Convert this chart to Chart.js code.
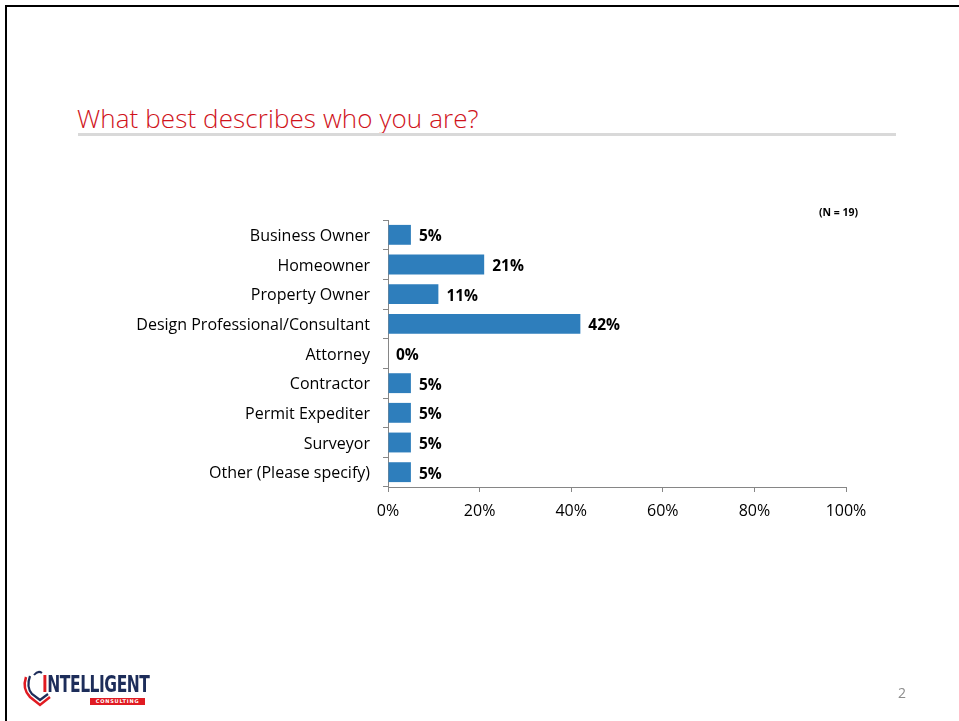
<!DOCTYPE html>
<html>
<head>
<meta charset="utf-8">
<script src="https://cdn.jsdelivr.net/npm/chart.js@4"></script>
<style>
  body { margin: 0; background: #fff; }
  #slide { position: relative; width: 959px; height: 721px; overflow: hidden; background: #fff; }
  #frame { position: absolute; left: 5px; top: 5px; right: -10px; bottom: -10px; border: 2px solid #000; }
  #title { position: absolute; left: 77px; top: 105px; font: 300 26px/1 "Open Sans", sans-serif; color: #d0131b; letter-spacing: 0.1px; white-space: nowrap; }
  #rule { position: absolute; left: 78px; top: 133px; width: 818px; height: 3px; background: #d9d9d9; }
  #graph { position: absolute; left: 0; top: 0; }
  #pagenum { position: absolute; left: 898px; top: 683px; font: 14px "Open Sans", sans-serif; color: #8c8c8c; }
  #logo { position: absolute; left: 20px; top: 667px; width: 140px; height: 42px; }
  #logo .word { position: absolute; left: 22px; top: 4px; font: bold 23px "DejaVu Sans Condensed", sans-serif; color: #1d2d5a; letter-spacing: -0.6px; transform: scaleX(0.75); transform-origin: left; white-space: nowrap; }
  #logo .word span { color: #e01b22; }
  #logo .band { position: absolute; left: 70px; top: 31px; width: 55px; height: 7px; background: #e01b22; color: #fff; font: bold 5px "DejaVu Sans", sans-serif; letter-spacing: 0.8px; line-height: 7px; text-align: center; }
</style>
</head>
<body>
<div id="slide">
  <div id="frame"></div>
  <div id="title">What best describes who you are?</div>
  <div id="rule"></div>
  <canvas id="graph" width="959" height="721"></canvas>
  <div id="pagenum">2</div>
  <div id="logo">
    <svg width="40" height="42" style="position:absolute;left:0;top:0">
      <path d="M6 10 Q2 22 10 30 L20 38 L30 30" fill="none" stroke="#e01b22" stroke-width="2.5"/>
      <path d="M10 9 Q6 20 12 27 L20 33 L28 27" fill="none" stroke="#1d2d5a" stroke-width="2.2"/>
      <path d="M14 8 Q18 3 22 6" fill="none" stroke="#1d2d5a" stroke-width="2"/>
    </svg>
    <div class="word"><span>I</span>NTELLIGENT</div>
    <div class="band">CONSULTING</div>
  </div>
</div>
<script>
// survey answers, share of respondents (N = 19)
const categories = [
  'Business Owner',
  'Homeowner',
  'Property Owner',
  'Design Professional/Consultant',
  'Attorney',
  'Contractor',
  'Permit Expediter',
  'Surveyor',
  'Other (Please specify)'
];
const percents = [5, 21, 11, 42, 0, 5, 5, 5, 5];
const xTicks = [0, 20, 40, 60, 80, 100];
const sampleNote = '(N = 19)';

const labelFont = '"Open Sans", sans-serif';
const axisGray = '#868686';

// prints the bold % next to every bar + the N note
const valueLabels = {
  id: 'valueLabels',
  afterDatasetsDraw(chart) {
    const ctx = chart.ctx;
    const meta = chart.getDatasetMeta(0);
    ctx.save();
    ctx.fillStyle = '#000';
    ctx.font = 'bold 15.5px ' + labelFont;
    ctx.textBaseline = 'middle';
    ctx.textAlign = 'left';
    meta.data.forEach((bar, i) => {
      ctx.fillText(percents[i] + '%', bar.x + 8, bar.y + 2);
    });
    ctx.font = 'bold 10.5px ' + labelFont;
    ctx.textAlign = 'right';
    ctx.fillText(sampleNote, chart.chartArea.right + 12, 213);
    ctx.restore();
  }
};

const chart = new Chart(document.getElementById('graph'), {
  type: 'bar',
  data: {
    labels: categories,
    datasets: [{
      data: percents,
      backgroundColor: '#2e7ebc',
      barPercentage: 0.67,
      categoryPercentage: 1
    }]
  },
  options: {
    indexAxis: 'y',
    responsive: false,
    animation: false,
    layout: { padding: { left: 100, right: 113, top: 220, bottom: 190 } },
    plugins: { legend: { display: false }, tooltip: { enabled: false } },
    scales: {
      x: {
        min: 0,
        max: 100,
        afterBuildTicks: (scale) => { scale.ticks = xTicks.map(v => ({ value: v })); },
        afterFit: (scale) => { scale.height = 44; },
        grid: { drawOnChartArea: false, drawTicks: true, tickLength: 5, color: axisGray },
        border: { color: axisGray },
        ticks: { callback: (v) => v + '%', color: '#000', font: { family: labelFont, size: 16 }, padding: 10, maxRotation: 0 }
      },
      y: {
        afterFit: (scale) => { scale.width = 288; },
        grid: { drawOnChartArea: false, drawTicks: true, tickLength: 5, color: axisGray, offset: true },
        border: { color: axisGray },
        ticks: { color: '#000', font: { family: labelFont, size: 16 }, padding: 13, labelOffset: 1.5 }
      }
    }
  },
  plugins: [valueLabels]
});
</script>
</body>
</html>
